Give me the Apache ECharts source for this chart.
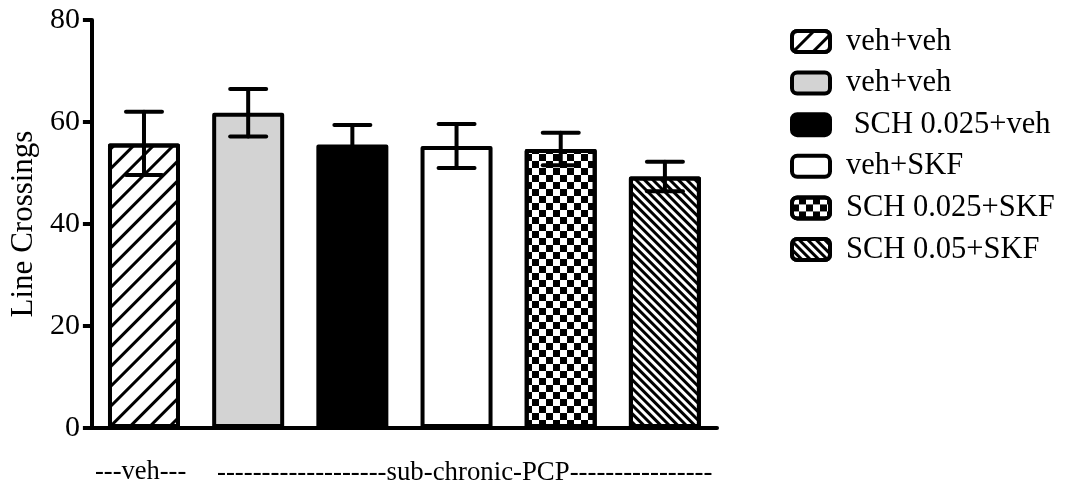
<!DOCTYPE html>
<html>
<head>
<meta charset="utf-8">
<script src="https://cdn.jsdelivr.net/npm/echarts@6/dist/echarts.min.js"></script>
<style>html,body{margin:0;padding:0;background:#fff;}#c{width:1065px;height:488px;}</style>
</head>
<body>
<div id="c"></div>
<script>
var groups = ['veh+veh', 'veh+veh ', ' SCH 0.025+veh', 'veh+SKF', 'SCH 0.025+SKF', 'SCH 0.05+SKF'];
var means = [55.8, 61.8, 55.6, 55.3, 54.7, 49.3];
var sems = [6.2, 4.65, 3.8, 4.3, 3.2, 2.9];
var yTicks = [0, 20, 40, 60, 80];
var groupLabels = ['---veh---', '-------------------sub-chronic-PCP----------------'];
var yName = 'Line Crossings';

var FONT = '"Liberation Serif", "Times New Roman", serif';
var fills = ['#ffffff', '#d3d3d3', '#000000', '#ffffff', '#ffffff', '#ffffff'];
var decals = [
  { symbol: 'rect', color: '#000', dashArrayX: [1, 0], dashArrayY: [3, 11], rotation: -Math.PI / 4 },
  null,
  null,
  null,
  { symbol: 'rect', color: '#000', dashArrayX: [[7, 7], [0, 7, 7, 0]], dashArrayY: [7, 0] },
  { symbol: 'rect', color: '#000', dashArrayX: [1, 0], dashArrayY: [2.6, 2.7], rotation: Math.PI / 4 }
];

var series = groups.map(function (g, i) {
  var d = groups.map(function (_, j) { return j === i ? means[i] : '-'; });
  var is = { color: fills[i], borderColor: '#000', borderWidth: 4, borderJoin: 'round' };
  if (decals[i]) is.decal = decals[i];
  return {
    type: 'bar', name: g, data: d, barWidth: 72, barGap: '-100%',
    itemStyle: is, emphasis: { disabled: true }, animation: false
  };
});

series.push({
  type: 'custom', name: 'err', animation: false, silent: true, z: 10,
  data: means.map(function (m, i) { return [i, m - sems[i], m + sems[i]]; }),
  renderItem: function (params, api) {
    var lo = api.coord([api.value(0), api.value(1)]);
    var hi = api.coord([api.value(0), api.value(2)]);
    var hw = 18;
    var st = { stroke: '#000', lineWidth: 4, lineCap: 'round' };
    return {
      type: 'group', children: [
        { type: 'line', shape: { x1: lo[0], y1: lo[1], x2: hi[0], y2: hi[1] }, style: st },
        { type: 'line', shape: { x1: hi[0] - hw, y1: hi[1], x2: hi[0] + hw, y2: hi[1] }, style: st },
        { type: 'line', shape: { x1: lo[0] - hw, y1: lo[1], x2: lo[0] + hw, y2: lo[1] }, style: st }
      ]
    };
  }
});

var chart = echarts.init(document.getElementById('c'), null, { renderer: 'canvas' });
chart.setOption({
  animation: false,
  backgroundColor: '#fff',
  grid: { left: 87, right: 348, top: 20, bottom: 60, containLabel: false },
  xAxis: {
    type: 'category', data: groups, boundaryGap: true,
    axisLine: { lineStyle: { color: '#000', width: 4 } },
    axisTick: { length: 9, lineStyle: { color: '#000', width: 4 }, interval: function (idx) { return idx === 3; } },
    axisLabel: { show: false }, splitLine: { show: false }
  },
  yAxis: {
    type: 'value', min: yTicks[0], max: yTicks[yTicks.length - 1], interval: 20,
    name: yName, nameLocation: 'middle', nameGap: 52, nameRotate: 90,
    nameTextStyle: { fontFamily: FONT, fontSize: 31, color: '#000' },
    axisLine: { show: true, lineStyle: { color: '#000', width: 4 } },
    axisTick: { show: true, length: 9, lineStyle: { color: '#000', width: 4 } },
    axisLabel: { fontFamily: FONT, fontSize: 30, color: '#000', margin: 12 },
    splitLine: { show: false }
  },
  legend: {
    data: groups, orient: 'vertical', left: 790, top: 26, padding: 0,
    itemWidth: 38, itemHeight: 21, itemGap: 10.6, icon: 'roundRect',
    selectedMode: false,
    itemStyle: { borderWidth: 4, borderColor: '#000' },
    textStyle: { fontFamily: FONT, fontSize: 30.5, color: '#000', lineHeight: 28, padding: [0, 0, 0, 11] }
  },
  graphic: [
    { type: 'text', left: 95, top: 459, style: { text: groupLabels[0], font: '26.5px ' + FONT, fill: '#000' } },
    { type: 'text', left: 217, top: 459, style: { text: groupLabels[1], font: '26.8px ' + FONT, fill: '#000' } }
  ],
  series: series
});
</script>
</body>
</html>
